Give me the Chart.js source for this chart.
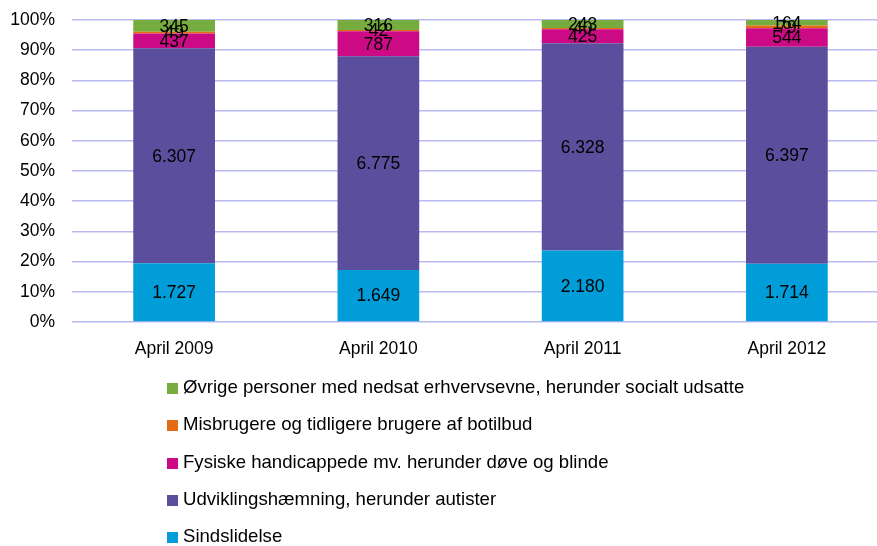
<!DOCTYPE html>
<html>
<head>
<meta charset="utf-8">
<script src="https://cdn.jsdelivr.net/npm/chart.js@4/dist/chart.umd.min.js"></script>
<style>
  html, body { margin: 0; padding: 0; background: #fff; overflow: hidden; width: 877px; height: 546px; }
  #wrap { position: absolute; left: 0; top: 0; width: 890px; height: 370px; }
  #legend { position: absolute; left: 167px; top: 368px; font-family: "Liberation Sans", Arial, sans-serif; font-size: 18.6px; color: #000; }
  #legend .item { height: 37.25px; line-height: 37.25px; white-space: nowrap; }
  #legend .box { display: inline-block; width: 11px; height: 11px; margin-right: 5px; vertical-align: -1px; }
</style>
</head>
<body>
<div id="wrap"><canvas id="chart"></canvas></div>
<div id="legend"></div>
<script>
document.addEventListener('DOMContentLoaded', () => {
    const categories = ['April 2009', 'April 2010', 'April 2011', 'April 2012'];
    const seriesNames = [
        'Sindslidelse',
        'Udviklingshæmning, herunder autister',
        'Fysiske handicappede mv. herunder døve og blinde',
        'Misbrugere og tidligere brugere af botilbud',
        'Øvrige personer med nedsat erhvervsevne, herunder socialt udsatte'
    ];
    const sindslidelse = [1727, 1649, 2180, 1714];
    const udvikling = [6307, 6775, 6328, 6397];
    const fysiske = [437, 787, 425, 544];
    const misbrugere = [49, 42, 40, 79];
    const oevrige = [345, 316, 243, 164];
    const yTicks = [0, 10, 20, 30, 40, 50, 60, 70, 80, 90, 100];

    const colors = ['#009DD9', '#5B4E9C', '#CC0A85', '#E36C12', '#77AD3E'];
    const series = [sindslidelse, udvikling, fysiske, misbrugere, oevrige];

    const totals = categories.map((c, i) => series.reduce((s, arr) => s + arr[i], 0));

    const fmt = v => String(v).replace(/\B(?=(\d{3})+(?!\d))/g, '.');

    const datasets = series.map((arr, k) => ({
        label: seriesNames[k],
        raw: arr,
        data: arr.map((v, i) => v / totals[i] * 100),
        backgroundColor: colors[k],
        borderWidth: 0,
        barPercentage: 0.4,
        categoryPercentage: 1.0
    }));

    const font = { family: '"Liberation Sans", Arial, sans-serif', size: 17.5 };

    const valueLabels = {
        id: 'valueLabels',
        afterDatasetsDraw(chart) {
            const ctx = chart.ctx;
            ctx.save();
            ctx.font = '17.5px "Liberation Sans", Arial, sans-serif';
            ctx.fillStyle = '#000';
            ctx.textAlign = 'center';
            ctx.textBaseline = 'middle';
            chart.data.datasets.forEach((ds, k) => {
                const meta = chart.getDatasetMeta(k);
                meta.data.forEach((bar, i) => {
                    ctx.fillText(fmt(ds.raw[i]), bar.x, (bar.y + bar.base) / 2 + 1);
                });
            });
            ctx.restore();
        }
    };

    const ctx = document.getElementById('chart').getContext('2d');
    new Chart(ctx, {
        type: 'bar',
        data: { labels: categories, datasets: datasets },
        options: {
            responsive: true,
            maintainAspectRatio: false,
            animation: false,
            layout: { padding: { top: 20, left: 0, right: 1, bottom: 0 } },
            plugins: {
                legend: { display: false },
                tooltip: { enabled: false }
            },
            scales: {
                x: {
                    stacked: true,
                    grid: { display: false, drawTicks: false },
                    border: { display: false },
                    ticks: { color: '#000', font: font, padding: 17 },
                    afterFit: scale => { scale.height = 48; scale.paddingLeft = 0; scale.paddingRight = 0; }
                },
                y: {
                    stacked: true,
                    min: 0,
                    max: 100,
                    afterBuildTicks: scale => { scale.ticks = yTicks.map(v => ({ value: v })); },
                    grid: { color: '#BABAF2', lineWidth: 1.5, drawTicks: false },
                    border: { display: false },
                    ticks: { color: '#000', font: font, padding: 17, callback: v => v + '%' },
                    afterFit: scale => { scale.width = 72; scale.paddingTop = 0; scale.paddingBottom = 0; }
                }
            }
        },
        plugins: [valueLabels]
    });

    const legend = document.getElementById('legend');
    for (let k = seriesNames.length - 1; k >= 0; k--) {
        const item = document.createElement('div');
        item.className = 'item';
        item.innerHTML = '<span class="box" style="background:' + colors[k] + '"></span>' + seriesNames[k];
        legend.appendChild(item);
    }
});
</script>
</body>
</html>
